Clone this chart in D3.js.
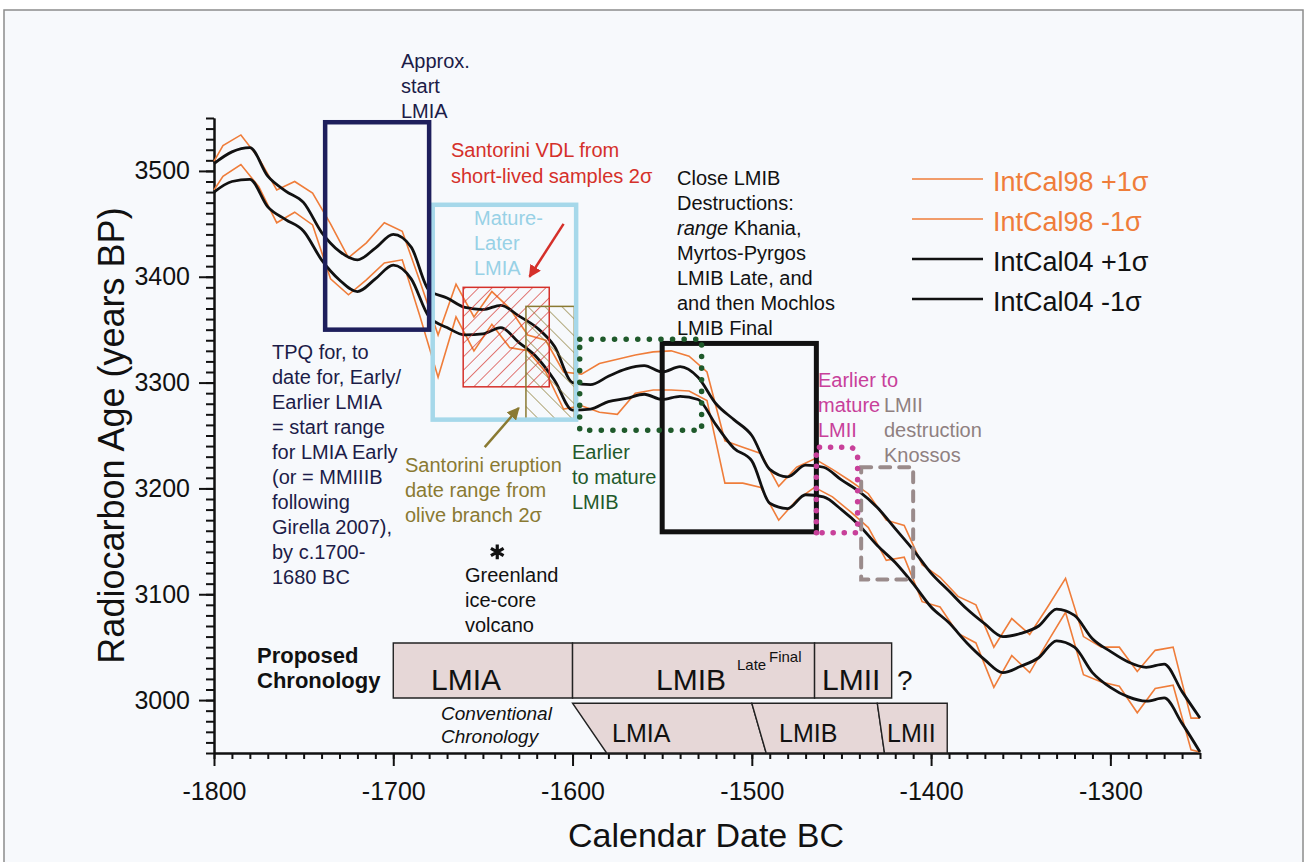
<!DOCTYPE html>
<html>
<head>
<meta charset="utf-8">
<script src="https://cdn.jsdelivr.net/npm/d3@7"></script>
<style>
  html, body { margin: 0; padding: 0; background: #fff; }
  svg { display: block; font-family: "Liberation Sans", Arial, sans-serif; }
</style>
</head>
<body>
<div id="chart"></div>
<script>
let width = 1309,
	height = 862;

// IntCal04 (10-yr steps) and IntCal98 (decadal) +/-1 sigma bands
const years04 = [-1800, -1790, -1780, -1770, -1760, -1750, -1740, -1730, -1720, -1710,
	-1700, -1690, -1680, -1670, -1660, -1650, -1640, -1630, -1620, -1610,
	-1600, -1590, -1580, -1570, -1560, -1550, -1540, -1530, -1520, -1510,
	-1500, -1490, -1480, -1470, -1460, -1450, -1440, -1430, -1420, -1410,
	-1400, -1390, -1380, -1370, -1360, -1350, -1340, -1330, -1320, -1310,
	-1300, -1290, -1280, -1270, -1260, -1250];
const intcal04Upper = [3507, 3518, 3522, 3495, 3481, 3470, 3442, 3424, 3416, 3427,
	3440, 3428, 3387, 3380, 3371, 3369, 3373, 3363, 3352, 3334,
	3300, 3298, 3306, 3313, 3316, 3310, 3315, 3305, 3280, 3265,
	3250, 3218, 3211, 3222, 3220, 3208, 3197, 3182, 3162, 3142,
	3120, 3103, 3086, 3072, 3060, 3063, 3070, 3086, 3080, 3058,
	3046, 3036, 3031, 3034, 3008, 2983];
const intcal04Lower = [3480, 3490, 3492, 3466, 3454, 3443, 3416, 3397, 3386, 3398,
	3411, 3398, 3362, 3352, 3345, 3346, 3352, 3338, 3324, 3302,
	3274, 3275, 3282, 3285, 3289, 3284, 3287, 3284, 3260, 3238,
	3226, 3186, 3181, 3194, 3192, 3180, 3165, 3146, 3130, 3110,
	3088, 3073, 3054, 3038, 3026, 3032, 3040, 3056, 3050, 3026,
	3012, 3003, 2999, 3002, 2978, 2951];

const years98 = [-1800, -1795, -1785, -1775, -1765, -1755, -1745, -1735, -1725, -1715,
	-1705, -1695, -1685, -1675, -1665, -1655, -1645, -1635, -1625, -1615,
	-1605, -1595, -1585, -1575, -1565, -1555, -1545, -1535, -1525, -1515,
	-1505, -1495, -1485, -1475, -1465, -1455, -1445, -1435, -1425, -1415,
	-1405, -1395, -1385, -1375, -1365, -1355, -1345, -1335, -1325, -1315,
	-1305, -1295, -1285, -1275, -1265, -1255, -1250];
const intcal98Upper = [3509, 3524, 3534, 3512, 3482, 3490, 3479, 3450, 3418, 3432,
	3451, 3443, 3395, 3345, 3393, 3362, 3386, 3370, 3345, 3340,
	3310, 3308, 3318, 3322, 3326, 3329, 3330, 3325, 3310, 3245,
	3239, 3233, 3202, 3220, 3228, 3218, 3207, 3195, 3170, 3165,
	3128, 3116, 3098, 3090, 3050, 3077, 3062, 3088, 3115, 3060,
	3050, 3050, 3027, 3047, 3050, 2983, 2983];
const intcal98Lower = [3482, 3495, 3506, 3485, 3451, 3461, 3449, 3398, 3383, 3397,
	3413, 3416, 3362, 3305, 3362, 3330, 3355, 3333, 3330, 3310,
	3275, 3278, 3272, 3270, 3290, 3293, 3293, 3292, 3283, 3205,
	3205, 3201, 3170, 3189, 3201, 3192, 3178, 3163, 3132, 3135,
	3093, 3088, 3063, 3054, 3012, 3042, 3026, 3055, 3083, 3024,
	3017, 3013, 2988, 3011, 3014, 2953, 2951];

const xTicks = [-1800, -1700, -1600, -1500, -1400, -1300];
const yTicks = [3000, 3100, 3200, 3300, 3400, 3500];
const legendLabels = ['IntCal98 +1σ', 'IntCal98 -1σ', 'IntCal04 +1σ', 'IntCal04 -1σ'];

// annotation boxes: [year from, year to, BP low, BP high]
const boxStartLMIA = [-1738, -1680, 3350, 3546];
const boxMatureLMIA = [-1678, -1598, 3265, 3468];
const boxVDL = [-1661, -1613, 3296, 3390];
const boxOlive = [-1626, -1599, 3265, 3372];
const boxEarlyLMIB = [-1596, -1528, 3255, 3341];
const boxDestructions = [-1550, -1464, 3159, 3337];
const boxEarlyLMII = [-1464, -1441, 3158, 3239];
const boxKnossos = [-1439, -1410, 3114, 3220];
const greenlandVolcano = [-1642, 3140];

// chronology bars
const proposedPhases = ['LMIA', 'LMIB', 'LMII'];
const proposedBounds = [-1700, -1600, -1465, -1422];
const proposedBand = [3002, 3054];
const conventionalPhases = ['LMIA', 'LMIB', 'LMII'];
const conventionalTop = [-1600, -1500, -1430, -1391];
const conventionalBottom = [-1581, -1492, -1426, -1391];
const conventionalBand = [2950, 2997];

let x = d3.scaleLinear().domain([-1800, -1250]).range([214, 1200]);
let y = d3.scaleLinear().domain([2950, 3550]).range([753, 118]);

const orange = '#ef7d3a', navy = '#1e1f5c', sky = '#a6d8ea', red = '#d5302a',
	olive = '#8a7a32', green = '#1f5a2b', magenta = '#c8409a', grey = '#9a8b8b';

let svg = d3.select('#chart').append('svg').attr('width', width).attr('height', height);

// scanned page
svg.append('rect').attr('width', width).attr('height', height).attr('fill', '#fff');
svg.append('rect').attr('x', 4).attr('y', 10).attr('width', 1299).attr('height', 860)
	.attr('fill', '#f7f9fc').attr('stroke', '#8c8c8c').attr('stroke-width', 1.5);

let defs = svg.append('defs');
function hatch(id, color, angle, gap) {
	let p = defs.append('pattern').attr('id', id).attr('patternUnits', 'userSpaceOnUse')
		.attr('width', gap).attr('height', gap).attr('patternTransform', `rotate(${angle})`);
	p.append('line').attr('x1', 0).attr('y1', 0).attr('x2', 0).attr('y2', gap)
		.attr('stroke', color).attr('stroke-width', 1.3);
}
hatch('hatchRed', red, 45, 9.5);
hatch('hatchOlive', olive, -45, 12);
function arrowHead(id, color) {
	defs.append('marker').attr('id', id).attr('viewBox', '0 0 10 10').attr('refX', 9).attr('refY', 5)
		.attr('markerWidth', 5).attr('markerHeight', 5).attr('orient', 'auto')
		.append('path').attr('d', 'M0,0L10,5L0,10z').attr('fill', color);
}
arrowHead('arrowRed', red);
arrowHead('arrowOlive', olive);

// axes
let fmt = d => String(d);
let axisG = svg.append('g');
axisG.append('g').attr('transform', `translate(${x(-1800)},0)`)
	.call(d3.axisLeft(y).tickValues(d3.range(2950, 3551, 10)).tickSize(8).tickSizeOuter(0).tickFormat(''));
axisG.append('g').attr('transform', `translate(${x(-1800)},0)`)
	.call(d3.axisLeft(y).tickValues(yTicks).tickSize(15).tickSizeOuter(0).tickPadding(9).tickFormat(fmt));
axisG.append('g').attr('transform', `translate(0,${y(2950)})`)
	.call(d3.axisBottom(x).tickValues(d3.range(-1800, -1249, 10)).tickSize(6).tickSizeOuter(0).tickFormat(''));
axisG.append('g').attr('transform', `translate(0,${y(2950)})`)
	.call(d3.axisBottom(x).tickValues(xTicks).tickSize(13).tickSizeOuter(0).tickPadding(16).tickFormat(fmt));
axisG.selectAll('path, line').attr('stroke', '#111').attr('stroke-width', 2);
axisG.selectAll('text').attr('font-size', 25).attr('fill', '#111')
	.attr('font-family', '"Liberation Sans", Arial, sans-serif');

svg.append('text').attr('transform', `translate(124,${(y(3550) + y(2950)) / 2}) rotate(-90)`)
	.attr('text-anchor', 'middle').attr('font-size', 36).attr('fill', '#111')
	.text('Radiocarbon Age (years BP)');
svg.append('text').attr('x', 706).attr('y', 847).attr('text-anchor', 'middle')
	.attr('font-size', 34).attr('fill', '#111').text('Calendar Date BC');

// chronology bars
function phaseBars(bounds0, bounds1, band, phases) {
	phases.forEach((p, i) => {
		let pts = [[bounds0[i], band[1]], [bounds0[i + 1], band[1]], [bounds1[i + 1], band[0]], [bounds1[i], band[0]]];
		svg.append('path').attr('d', d3.line().x(d => x(d[0])).y(d => y(d[1]))(pts) + 'Z')
			.attr('fill', '#e6d7d7').attr('stroke', '#222').attr('stroke-width', 1.4);
	});
}
phaseBars(proposedBounds, proposedBounds, proposedBand, proposedPhases);
phaseBars(conventionalTop, conventionalBottom, conventionalBand, conventionalPhases);

// curves
let line = (xs, vs, curve) => d3.line().curve(curve).x((d, i) => x(xs[i])).y(d => y(d))(vs);
[intcal98Upper, intcal98Lower].forEach(s => svg.append('path').attr('d', line(years98, s, d3.curveLinear))
	.attr('fill', 'none').attr('stroke', orange).attr('stroke-width', 1.6));
[intcal04Upper, intcal04Lower].forEach(s => svg.append('path').attr('d', line(years04, s, d3.curveMonotoneX))
	.attr('fill', 'none').attr('stroke', '#111').attr('stroke-width', 2.8).attr('stroke-linejoin', 'round'));

// boxes
function box(b, attrs) {
	let r = svg.append('rect').attr('x', x(b[0])).attr('y', y(b[3]))
		.attr('width', x(b[1]) - x(b[0])).attr('height', y(b[2]) - y(b[3])).attr('fill', 'none');
	Object.entries(attrs).forEach(([k, v]) => r.attr(k, v));
	return r;
}
box(boxVDL, {fill: 'url(#hatchRed)', stroke: red, 'stroke-width': 1.5});
box(boxOlive, {fill: 'url(#hatchOlive)', stroke: olive, 'stroke-width': 1.5});
box(boxMatureLMIA, {stroke: sky, 'stroke-width': 4.5});
box(boxStartLMIA, {stroke: navy, 'stroke-width': 4.5});
box(boxDestructions, {stroke: '#111', 'stroke-width': 5});
box(boxEarlyLMIB, {stroke: green, 'stroke-width': 5.5, 'stroke-dasharray': '0.1 11.5', 'stroke-linecap': 'round'});
box(boxKnossos, {stroke: grey, 'stroke-width': 4, 'stroke-dasharray': '10 9', 'stroke-linecap': 'round'});
{
	let [a, b, lo, hi] = boxEarlyLMII, r = 9;
	let p = d3.path();
	p.moveTo(x(a), y(lo));
	p.lineTo(x(a), y(hi));
	p.lineTo(x(b) - r, y(hi));
	p.arcTo(x(b), y(hi), x(b), y(hi) + r, r);
	p.lineTo(x(b), y(lo));
	p.closePath();
	svg.append('path').attr('d', p.toString()).attr('fill', 'none').attr('stroke', magenta)
		.attr('stroke-width', 5.5).attr('stroke-dasharray', '0.1 11').attr('stroke-linecap', 'round');
}

// arrows
svg.append('line').attr('x1', x(-1605)).attr('y1', y(3450)).attr('x2', x(-1624)).attr('y2', y(3400))
	.attr('stroke', red).attr('stroke-width', 2.5).attr('marker-end', 'url(#arrowRed)');
svg.append('line').attr('x1', x(-1649)).attr('y1', y(3239)).attr('x2', x(-1630)).attr('y2', y(3276))
	.attr('stroke', olive).attr('stroke-width', 2.5).attr('marker-end', 'url(#arrowOlive)');

// Greenland ice-core volcano marker
svg.append('path').attr('d', d3.symbol(d3.symbolAsterisk, 150)())
	.attr('transform', `translate(${x(greenlandVolcano[0])},${y(greenlandVolcano[1])})`)
	.attr('fill', 'none').attr('stroke', '#111').attr('stroke-width', 3.2);

// text blocks
function block(lines, x0, y0, color, size, dy) {
	let t = svg.append('g').attr('fill', color).attr('font-size', size);
	lines.forEach((l, i) => t.append('text').attr('x', x0).attr('y', y0 + i * (dy || 25)).html(l));
	return t;
}
block(['Approx.', 'start', 'LMIA'], 401, 68, '#1c1c48', 20);
block(['TPQ for, to', 'date for, Early/', 'Earlier LMIA', '= start range', 'for LMIA Early',
	'(or = MMIIIB', 'following', 'Girella 2007),', 'by c.1700-', '1680 BC'], 272, 359, '#1c1c48', 20);
block(['Mature-', 'Later', 'LMIA'], 474, 225, '#98d1e6', 20);
block(['Santorini VDL from', 'short-lived samples 2σ'], 451, 157, red, 20, 26);
block(['Close LMIB', 'Destructions:', '<tspan font-style="italic">range</tspan> Khania,', 'Myrtos-Pyrgos',
	'LMIB Late, and', 'and then Mochlos', 'LMIB Final'], 677, 185, '#111', 20);
block(['Santorini eruption', 'date range from', 'olive branch 2σ'], 405, 472, olive, 20);
block(['Earlier', 'to mature', 'LMIB'], 572, 459, green, 20);
block(['Greenland', 'ice-core', 'volcano'], 465, 582, '#111', 20);
block(['Earlier to', 'mature', 'LMII'], 818, 387, magenta, 20);
block(['LMII', 'destruction', 'Knossos'], 884, 412, '#8f8080', 20);

// chronology labels
block(['Proposed', 'Chronology'], 257, 663, '#111', 22).attr('font-weight', 'bold');
let chrono = svg.append('g').attr('fill', '#111');
chrono.append('text').attr('x', 431).attr('y', 690).attr('font-size', 30).text(proposedPhases[0]);
chrono.append('text').attr('x', 656).attr('y', 690).attr('font-size', 30).text(proposedPhases[1]);
chrono.append('text').attr('x', 737).attr('y', 670).attr('font-size', 15).text('Late');
chrono.append('text').attr('x', 769).attr('y', 662).attr('font-size', 15).text('Final');
chrono.append('text').attr('x', 822).attr('y', 690).attr('font-size', 30).text(proposedPhases[2]);
chrono.append('text').attr('x', 897).attr('y', 690).attr('font-size', 28).text('?');
block(['Conventional', 'Chronology'], 441, 720, '#111', 19, 23).attr('font-style', 'italic');
chrono.append('text').attr('x', 612).attr('y', 742).attr('font-size', 25).text(conventionalPhases[0]);
chrono.append('text').attr('x', 779).attr('y', 742).attr('font-size', 25).text(conventionalPhases[1]);
chrono.append('text').attr('x', 887).attr('y', 742).attr('font-size', 25).text(conventionalPhases[2]);

// legend
let legend = svg.append('g').selectAll('g').data(legendLabels).enter().append('g')
	.attr('transform', (d, i) => `translate(912,${179 + i * 40})`);
legend.append('line').attr('x1', 0).attr('x2', 71)
	.attr('stroke', (d, i) => i < 2 ? orange : '#111').attr('stroke-width', (d, i) => i < 2 ? 1.6 : 2.6);
legend.append('text').attr('x', 81).attr('y', 12).attr('font-size', 27)
	.attr('fill', (d, i) => i < 2 ? orange : '#111').text(d => d);
</script>
</body>
</html>
